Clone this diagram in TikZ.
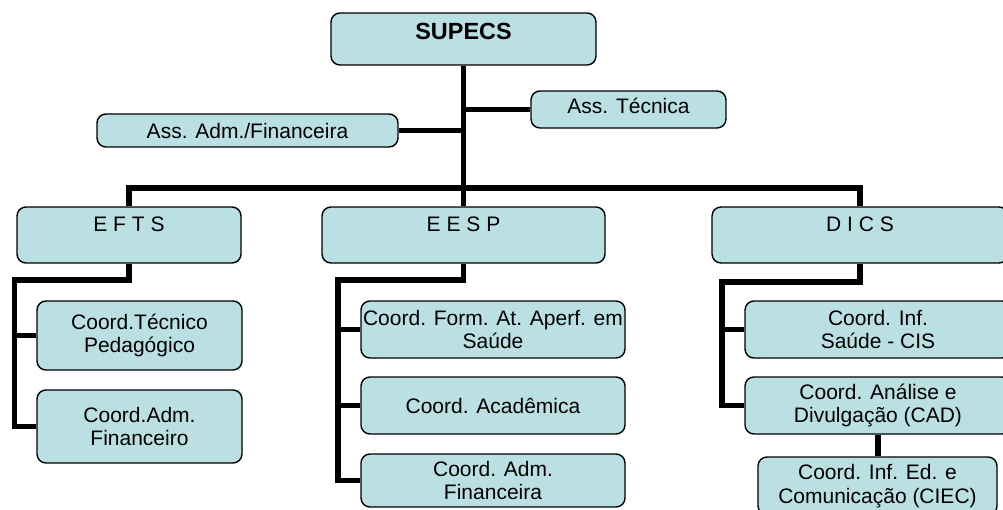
\documentclass[tikz,border=0pt]{standalone}
\usepackage{fontspec}
\setmainfont{Liberation Sans}
\definecolor{boxfill}{RGB}{187,224,227}
\begin{document}
\begin{tikzpicture}[x=1pt,y=-1pt,
  box/.style={draw=black, line width=1.4pt, fill=boxfill, rounded corners=9pt,
    inner sep=0pt, align=center, font=\fontsize{21}{23.5}\selectfont},
  one/.style={text height=15pt, text depth=#1},
  conn/.style={line width=5.8pt, black}]
\useasboundingbox (0,0) rectangle (1003,509);
\clip (0,0) rectangle (1003,509);

% boxes
\node[box, minimum width=265pt, minimum height=52pt, text height=16.8pt, text depth=15pt,
      font=\fontsize{23.4}{26}\selectfont\bfseries] (supecs) at (463.5,39) {SUPECS};
\node[box, one=7pt, minimum width=195pt, minimum height=37pt] (asstec) at (628.5,109.5) {Ass. Técnica};
\node[box, one=0pt, minimum width=301pt, minimum height=33pt] (assadm) at (247.5,130.5) {Ass. Adm./Financeira};

\node[box, one=22pt, minimum width=224pt, minimum height=56pt] (efts) at (129,235) {E F T S};
\node[box, one=22pt, minimum width=283pt, minimum height=56pt] (eesp) at (463.5,235) {E E S P};
\node[box, one=22pt, minimum width=296pt, minimum height=56pt] (dics) at (860,235) {D I C S};

\node[box, minimum width=205pt, minimum height=69pt] (coordtec) at (139.5,335.5) {Coord.Técnico\\Pedagógico};
\node[box, minimum width=205pt, minimum height=73pt] (coordadmA) at (139.5,426.5) {Coord.Adm.\\Financeiro};

\node[box, minimum width=264pt, minimum height=57pt] (coordform) at (493,329.5) {Coord. Form. At. Aperf. em\\Saúde};
\node[box, minimum width=264pt, minimum height=57pt] (coordacad) at (493,405.5) {Coord. Acadêmica};
\node[box, minimum width=264pt, minimum height=53pt] (coordadmF) at (493,480.5) {Coord. Adm.\\Financeira};

\node[box, minimum width=266pt, minimum height=57pt] (coordsaude) at (878,329.5) {Coord. Inf.\\Saúde - CIS};
\node[box, minimum width=266pt, minimum height=57pt] (coordanal) at (878,405.5) {Coord. Análise e\\Divulgação (CAD)};
\node[box, minimum width=239pt, minimum height=58pt] (coordied) at (877.5,486) {Coord. Inf. Ed. e\\Comunicação (CIEC)};

% connectors
\draw[conn] (supecs.south) -- (eesp.north);
\draw[conn] (asstec.west) -- (asstec.west -| supecs.south);
\draw[conn] (assadm.east) -- (assadm.east -| supecs.south);
\coordinate (bus) at (463.5,188);
\draw[conn] (efts.north) |- (bus) -| (dics.north);

\coordinate (eL) at (14.5,280);
\draw[conn] (efts.south) |- (eL) |- (coordadmA.west);
\draw[conn] (coordtec.west) -- (coordtec.west -| eL);

\coordinate (pL) at (338,280);
\draw[conn] (eesp.south) |- (pL) |- (coordadmF.west);
\draw[conn] (coordform.west) -- (coordform.west -| pL);
\draw[conn] (coordacad.west) -- (coordacad.west -| pL);

\coordinate (dL) at (722,282);
\draw[conn] (dics.south) |- (dL) |- (coordanal.west);
\draw[conn] (coordsaude.west) -- (coordsaude.west -| dL);
\draw[conn] (coordanal.south) -- (coordanal.south |- coordied.north);
\end{tikzpicture}
\end{document}
